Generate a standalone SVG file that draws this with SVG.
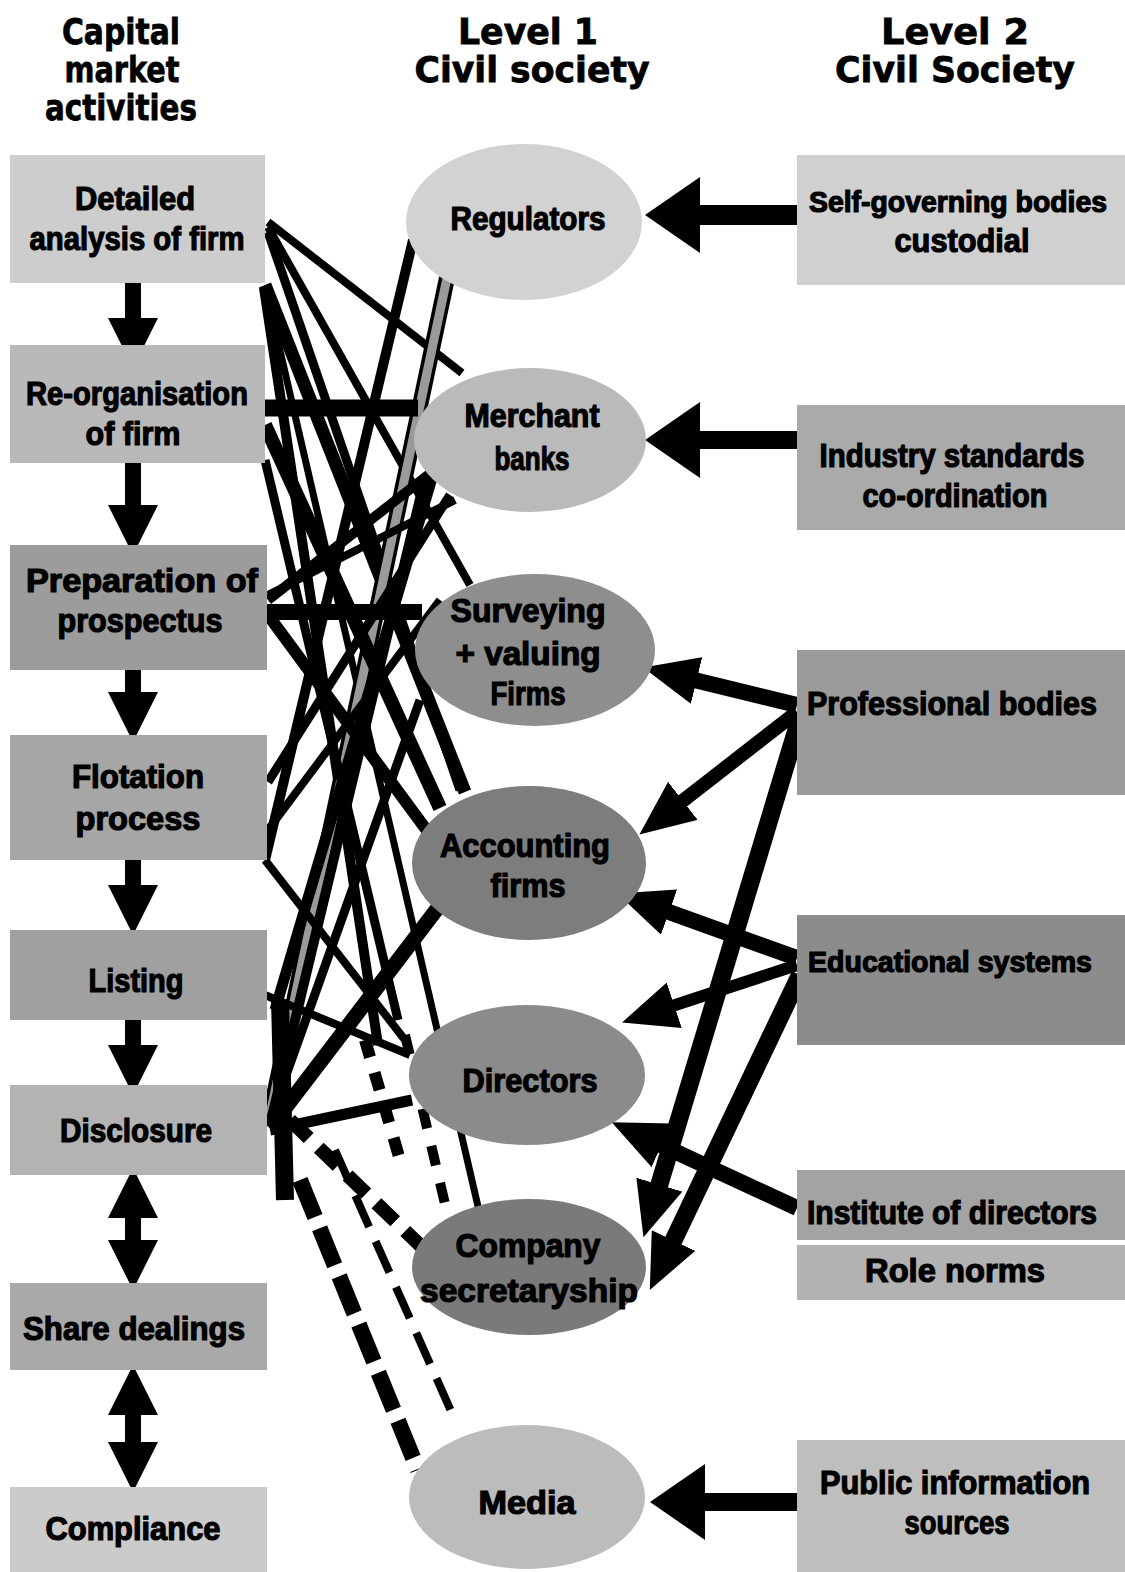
<svg xmlns="http://www.w3.org/2000/svg" width="1125" height="1572" viewBox="0 0 1125 1572">
<style>
.hdr{font-family:"DejaVu Sans","Liberation Sans",sans-serif;font-weight:bold;font-size:36px;fill:#000;stroke:#000;stroke-width:0.8;text-anchor:middle}
.lbl{font-family:"Liberation Sans Narrow","Liberation Sans",sans-serif;font-weight:bold;font-size:33px;fill:#000;stroke:#000;stroke-width:1.2;text-anchor:middle}
.sm{font-size:29px}
.k{stroke:#000;fill:none;stroke-linecap:butt}
.arr{stroke:#000;fill:none}
</style>
<defs>
<marker id="ah" viewBox="0 0 50 50" refX="15" refY="25" markerWidth="50" markerHeight="50" markerUnits="userSpaceOnUse" orient="auto-start-reverse"><path d="M0,0 L50,25 L0,50 Z" fill="#000"/></marker>
<marker id="ahL" viewBox="0 0 55 76" refX="15" refY="38" markerWidth="55" markerHeight="76" markerUnits="userSpaceOnUse" orient="auto"><path d="M0,0 L55,38 L0,76 Z" fill="#000"/></marker>
<marker id="ahM" viewBox="0 0 55 48" refX="15" refY="24" markerWidth="55" markerHeight="48" markerUnits="userSpaceOnUse" orient="auto"><path d="M0,0 L55,24 L0,48 Z" fill="#000"/></marker>
</defs>
<rect width="1125" height="1572" fill="#fff"/>

<g id="headers">
<text class="hdr" x="121" y="44" textLength="118" lengthAdjust="spacingAndGlyphs">Capital</text>
<text class="hdr" x="122" y="82" textLength="115" lengthAdjust="spacingAndGlyphs">market</text>
<text class="hdr" x="121" y="120" textLength="152" lengthAdjust="spacingAndGlyphs">activities</text>
<text class="hdr" x="528" y="44" textLength="140" lengthAdjust="spacingAndGlyphs">Level 1</text>
<text class="hdr" x="532" y="82" textLength="235" lengthAdjust="spacingAndGlyphs">Civil society</text>
<text class="hdr" x="955" y="44" textLength="148" lengthAdjust="spacingAndGlyphs">Level 2</text>
<text class="hdr" x="955" y="82" textLength="240" lengthAdjust="spacingAndGlyphs">Civil Society</text>
</g>

<g id="connectors">
<!-- left column flow arrows -->
<line class="arr" x1="133" y1="283" x2="133" y2="333" stroke-width="16" marker-end="url(#ah)"/>
<line class="arr" x1="133" y1="460" x2="133" y2="520" stroke-width="16" marker-end="url(#ah)"/>
<line class="arr" x1="133" y1="670" x2="133" y2="707" stroke-width="16" marker-end="url(#ah)"/>
<line class="arr" x1="133" y1="860" x2="133" y2="900" stroke-width="16" marker-end="url(#ah)"/>
<line class="arr" x1="133" y1="1020" x2="133" y2="1060" stroke-width="16" marker-end="url(#ah)"/>
<line class="arr" x1="133" y1="1203" x2="133" y2="1255" stroke-width="16" marker-start="url(#ah)" marker-end="url(#ah)"/>
<line class="arr" x1="133" y1="1400" x2="133" y2="1457" stroke-width="16" marker-start="url(#ah)" marker-end="url(#ah)"/>

<!-- tangle: capital market activities to level 1 -->
<line class="k" x1="268" y1="222" x2="462" y2="373" stroke-width="8"/>
<line class="k" x1="268" y1="227" x2="470" y2="585" stroke-width="8"/>
<line class="k" x1="268" y1="232" x2="460" y2="790" stroke-width="9"/>
<line class="k" x1="265" y1="285" x2="465" y2="792" stroke-width="13"/>
<line class="k" x1="264" y1="288" x2="378" y2="1045" stroke-width="10"/>
<line class="k" x1="266" y1="290" x2="480" y2="1215" stroke-width="7"/>
<line class="k" x1="413" y1="240" x2="265" y2="860" stroke-width="10"/>
<line class="k" x1="447" y1="278" x2="270" y2="1115" stroke-width="16"/>
<line x1="447" y1="278" x2="270" y2="1115" stroke="#9a9a9a" stroke-width="9"/>
<line class="k" x1="265" y1="408" x2="418" y2="408" stroke-width="17"/>
<line class="k" x1="265" y1="425" x2="440" y2="808" stroke-width="14"/>
<line class="k" x1="265" y1="460" x2="398" y2="1020" stroke-width="9"/>
<line class="k" x1="268" y1="600" x2="432" y2="472" stroke-width="10"/>
<line class="k" x1="265" y1="612" x2="422" y2="612" stroke-width="16"/>
<line class="k" x1="268" y1="615" x2="428" y2="832" stroke-width="12"/>
<line class="k" x1="268" y1="595" x2="455" y2="500" stroke-width="8"/>
<line class="k" x1="268" y1="782" x2="450" y2="495" stroke-width="9"/>
<line class="k" x1="268" y1="830" x2="440" y2="600" stroke-width="8"/>
<line class="k" x1="265" y1="860" x2="405" y2="1040" stroke-width="8"/>
<line class="k" x1="265" y1="995" x2="410" y2="1055" stroke-width="8"/>
<line class="k" x1="275" y1="1010" x2="432" y2="478" stroke-width="11"/>
<line class="k" x1="270" y1="1125" x2="425" y2="478" stroke-width="10"/>
<line class="k" x1="270" y1="1128" x2="440" y2="905" stroke-width="15"/>
<line class="k" x1="270" y1="1130" x2="412" y2="1100" stroke-width="11"/>
<line class="k" x1="270" y1="1120" x2="420" y2="700" stroke-width="9"/>
<line class="k" x1="280" y1="1000" x2="285" y2="1200" stroke-width="18"/>
<line class="k" x1="290" y1="1120" x2="425" y2="1250" stroke-width="14" stroke-dasharray="26 14"/>
<line class="k" x1="300" y1="1180" x2="418" y2="1470" stroke-width="16" stroke-dasharray="40 12"/>
<line class="k" x1="335" y1="1150" x2="455" y2="1420" stroke-width="8" stroke-dasharray="34 16"/>
<line class="k" x1="405" y1="1035" x2="450" y2="1225" stroke-width="10" stroke-dasharray="20 18"/>
<line class="k" x1="365" y1="1040" x2="400" y2="1160" stroke-width="12" stroke-dasharray="18 16"/>

<!-- level 2 to level 1 -->
<line class="arr" x1="797" y1="215" x2="685" y2="215" stroke-width="20" marker-end="url(#ahL)"/>
<line class="arr" x1="797" y1="440" x2="685" y2="440" stroke-width="18" marker-end="url(#ahL)"/>
<line class="arr" x1="797" y1="1502" x2="690" y2="1502" stroke-width="18" marker-end="url(#ahL)"/>
<line class="arr" x1="797" y1="705" x2="682" y2="677" stroke-width="16" marker-end="url(#ahM)"/>
<line class="arr" x1="797" y1="712" x2="671" y2="810" stroke-width="14" marker-end="url(#ahM)"/>
<line class="arr" x1="800" y1="718" x2="655" y2="1199" stroke-width="18" marker-end="url(#ahM)"/>
<line class="arr" x1="797" y1="958" x2="655" y2="907" stroke-width="16" marker-end="url(#ahM)"/>
<line class="arr" x1="797" y1="965" x2="660" y2="1010" stroke-width="12" marker-end="url(#ahM)"/>
<line class="arr" x1="800" y1="975" x2="667" y2="1254" stroke-width="18" marker-end="url(#ahM)"/>
<line class="arr" x1="797" y1="1208" x2="648" y2="1139" stroke-width="16" marker-end="url(#ahM)"/>
</g>

<g id="n-detailed"><rect x="10" y="155" width="255" height="128" fill="#cdcdcd"/>
<text class="lbl" x="135" y="210" textLength="120" lengthAdjust="spacingAndGlyphs">Detailed</text>
<text class="lbl" x="137" y="250" textLength="215" lengthAdjust="spacingAndGlyphs">analysis of firm</text></g>
<g id="n-reorg"><rect x="10" y="345" width="255" height="118" fill="#b9b9b9"/>
<text class="lbl" x="137" y="405" textLength="222" lengthAdjust="spacingAndGlyphs">Re-organisation</text>
<text class="lbl" x="133" y="445" textLength="95" lengthAdjust="spacingAndGlyphs">of firm</text></g>
<g id="n-prep"><rect x="10" y="545" width="257" height="125" fill="#9c9c9c"/>
<text class="lbl" x="142" y="592" textLength="232" lengthAdjust="spacingAndGlyphs">Preparation of</text>
<text class="lbl" x="140" y="632" textLength="165" lengthAdjust="spacingAndGlyphs">prospectus</text></g>
<g id="n-flot"><rect x="10" y="735" width="257" height="125" fill="#a6a6a6"/>
<text class="lbl" x="138" y="788" textLength="132" lengthAdjust="spacingAndGlyphs">Flotation</text>
<text class="lbl" x="138" y="830" textLength="125" lengthAdjust="spacingAndGlyphs">process</text></g>
<g id="n-listing"><rect x="10" y="930" width="257" height="90" fill="#a0a0a0"/>
<text class="lbl" x="136" y="992" textLength="95" lengthAdjust="spacingAndGlyphs">Listing</text></g>
<g id="n-disclosure"><rect x="10" y="1085" width="257" height="90" fill="#b3b3b3"/>
<text class="lbl" x="136" y="1142" textLength="152" lengthAdjust="spacingAndGlyphs">Disclosure</text></g>
<g id="n-share"><rect x="10" y="1283" width="257" height="87" fill="#a9a9a9"/>
<text class="lbl" x="134" y="1340" textLength="222" lengthAdjust="spacingAndGlyphs">Share dealings</text></g>
<g id="n-compliance"><rect x="10" y="1487" width="257" height="85" fill="#cbcbcb"/>
<text class="lbl" x="133" y="1540" textLength="175" lengthAdjust="spacingAndGlyphs">Compliance</text></g>

<g id="n-regulators"><ellipse cx="524" cy="222" rx="118" ry="78" fill="#d2d2d2"/>
<text class="lbl" x="528" y="230" textLength="155" lengthAdjust="spacingAndGlyphs">Regulators</text></g>
<g id="n-merchant"><ellipse cx="530" cy="440" rx="116" ry="72" fill="#bababa"/>
<text class="lbl" x="532" y="427" textLength="135" lengthAdjust="spacingAndGlyphs">Merchant</text>
<text class="lbl" x="532" y="470" textLength="75" lengthAdjust="spacingAndGlyphs">banks</text></g>
<g id="n-surveying"><ellipse cx="535" cy="650" rx="120" ry="76" fill="#8e8e8e"/>
<text class="lbl" x="528" y="622" textLength="155" lengthAdjust="spacingAndGlyphs">Surveying</text>
<text class="lbl" x="528" y="665" textLength="145" lengthAdjust="spacingAndGlyphs">+ valuing</text>
<text class="lbl" x="528" y="705" textLength="75" lengthAdjust="spacingAndGlyphs">Firms</text></g>
<g id="n-accounting"><ellipse cx="529" cy="863" rx="117" ry="77" fill="#7d7d7d"/>
<text class="lbl" x="525" y="857" textLength="170" lengthAdjust="spacingAndGlyphs">Accounting</text>
<text class="lbl" x="528" y="897" textLength="75" lengthAdjust="spacingAndGlyphs">firms</text></g>
<g id="n-directors"><ellipse cx="527" cy="1075" rx="118" ry="70" fill="#8b8b8b"/>
<text class="lbl" x="530" y="1092" textLength="135" lengthAdjust="spacingAndGlyphs">Directors</text></g>
<g id="n-compsec"><ellipse cx="529" cy="1267" rx="117" ry="68" fill="#7a7a7a"/>
<text class="lbl" x="528" y="1257" textLength="145" lengthAdjust="spacingAndGlyphs">Company</text>
<text class="lbl" x="529" y="1302" textLength="218" lengthAdjust="spacingAndGlyphs">secretaryship</text></g>
<g id="n-media"><ellipse cx="527" cy="1497" rx="118" ry="72" fill="#bcbcbc"/>
<text class="lbl" x="527" y="1514" textLength="97" lengthAdjust="spacingAndGlyphs">Media</text></g>

<g id="n-selfgov"><rect x="797" y="155" width="328" height="130" fill="#d0d0d0"/>
<text class="lbl sm" x="958" y="212" textLength="298" lengthAdjust="spacingAndGlyphs">Self-governing bodies</text>
<text class="lbl" x="962" y="252" textLength="135" lengthAdjust="spacingAndGlyphs">custodial</text></g>
<g id="n-industry"><rect x="797" y="405" width="328" height="125" fill="#aaaaaa"/>
<text class="lbl" x="952" y="467" textLength="265" lengthAdjust="spacingAndGlyphs">Industry standards</text>
<text class="lbl" x="955" y="507" textLength="185" lengthAdjust="spacingAndGlyphs">co-ordination</text></g>
<g id="n-professional"><rect x="797" y="650" width="328" height="145" fill="#9a9a9a"/>
<text class="lbl" x="952" y="715" textLength="290" lengthAdjust="spacingAndGlyphs">Professional bodies</text></g>
<g id="n-education"><rect x="797" y="915" width="328" height="130" fill="#8c8c8c"/>
<text class="lbl sm" x="950" y="972" textLength="284" lengthAdjust="spacingAndGlyphs">Educational systems</text></g>
<g id="n-institute"><rect x="797" y="1170" width="328" height="70" fill="#a3a3a3"/>
<text class="lbl" x="952" y="1224" textLength="290" lengthAdjust="spacingAndGlyphs">Institute of directors</text></g>
<g id="n-role"><rect x="797" y="1245" width="328" height="55" fill="#b2b2b2"/>
<text class="lbl" x="955" y="1282" textLength="180" lengthAdjust="spacingAndGlyphs">Role norms</text></g>
<g id="n-public"><rect x="797" y="1440" width="328" height="132" fill="#bebebe"/>
<text class="lbl" x="955" y="1494" textLength="270" lengthAdjust="spacingAndGlyphs">Public information</text>
<text class="lbl" x="957" y="1534" textLength="105" lengthAdjust="spacingAndGlyphs">sources</text></g>
</svg>
